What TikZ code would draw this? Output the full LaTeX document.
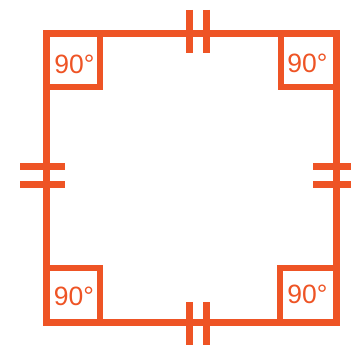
\documentclass[tikz,border=0pt]{standalone}
\usepackage{fontspec}
\setmainfont{Liberation Sans}
\definecolor{sqorange}{RGB}{238,84,37}
\tikzset{
  side/.style={draw=sqorange, line width=7pt},
  rightbox/.style={draw=sqorange, line width=6pt},
  tickmark/.style={draw=sqorange, line width=7pt},
  anglelabel/.style={text=sqorange, inner sep=0pt, font=\fontsize{26.5}{26.5}\selectfont},
}
\begin{document}
\begin{tikzpicture}[x=1pt,y=1pt]
\useasboundingbox (0,0) rectangle (351,346);
\clip (0,0) rectangle (351,346);
\coordinate (TL) at (46,312.5);
\coordinate (TR) at (336,312.5);
\coordinate (BR) at (336,24);
\coordinate (BL) at (46,24);
\draw[side] 
    (TL) --  % top left
    (TR) --  % top right
    (BR) --  % bottom right
    (BL) -- cycle;  % bottom left
\draw[rightbox] (TL) rectangle ++(54,-54);
\draw[rightbox] (TR) rectangle ++(-55,-54);
\draw[rightbox] (BR) rectangle ++(-56,54);
\draw[rightbox] (BL) rectangle ++(54,54);
\node[anglelabel] (aTL) at (74.5,282) {90°};
\node[anglelabel] (aTR) at (307.5,283) {90°};
\node[anglelabel] (aBR) at (307.5,52) {90°};
\node[anglelabel] (aBL) at (74,49.5) {90°};
% equal sides
\draw[tickmark] 
    (189.5,336) -- (189.5,293)  % top
    (206,336) -- (206,293)
    (189.5,44) -- (189.5,1)  % bottom
    (206,44) -- (206,1)
    (20,179) -- (65,179)  % left
    (20,161) -- (65,161)
    (313,179) -- (358,179)  % right
    (313,161) -- (358,161);

\end{tikzpicture}
\end{document}
